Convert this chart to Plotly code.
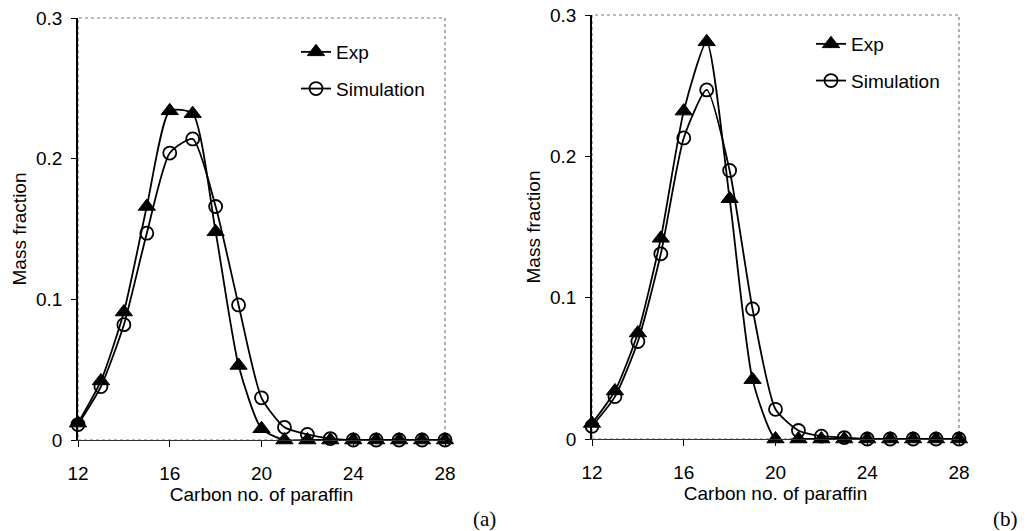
import plotly.graph_objects as go

carbon = list(range(12, 29))
tick_vals_x = [12, 16, 20, 24, 28]
tick_vals_y = [0, 0.1, 0.2, 0.3]
tick_text_y = ["0", "0.1", "0.2", "0.3"]

exp_a = [0.012, 0.042, 0.091, 0.166, 0.234, 0.232, 0.148, 0.053, 0.008, 0, 0, 0, 0, 0, 0, 0, 0]
sim_a = [0.011, 0.038, 0.082, 0.147, 0.204, 0.214, 0.166, 0.096, 0.030, 0.009, 0.004, 0.001, 0, 0, 0, 0, 0]
exp_b = [0.011, 0.034, 0.075, 0.142, 0.232, 0.281, 0.170, 0.042, 0, 0, 0, 0, 0, 0, 0, 0, 0]
sim_b = [0.009, 0.030, 0.069, 0.131, 0.213, 0.247, 0.190, 0.092, 0.021, 0.006, 0.002, 0.001, 0, 0, 0, 0, 0]

FONT = "Liberation Sans, Arial, sans-serif"
FS = 19

fig = go.Figure()

def add_pair(exp, sim, xa, ya, leg):
    fig.add_trace(go.Scatter(
        x=carbon, y=exp, name="Exp", mode="lines+markers",
        line=dict(color="black", width=1.8, shape="spline", smoothing=0.6),
        marker=dict(symbol="triangle-up", size=15, color="black", line=dict(color="black", width=1)),
        xaxis=xa, yaxis=ya, legend=leg, legendgroup=leg + "e", cliponaxis=False))
    fig.add_trace(go.Scatter(
        x=carbon, y=sim, name="Simulation", mode="lines+markers",
        line=dict(color="black", width=1.8, shape="spline", smoothing=0.6),
        marker=dict(symbol="circle-open", size=13, color="black", line=dict(color="black", width=1.8)),
        xaxis=xa, yaxis=ya, legend=leg, legendgroup=leg + "s", cliponaxis=False))

add_pair(exp_a, sim_a, "x", "y", "legend")
add_pair(exp_b, sim_b, "x2", "y2", "legend2")

xcommon = dict(range=[12, 28], tickvals=tick_vals_x, ticks="outside", ticklen=6, tickcolor="black",
               showline=True, linecolor="#333333", linewidth=1, showgrid=False, zeroline=False,
               automargin=False,
               tickfont=dict(family=FONT, size=FS, color="black"), ticklabelstandoff=10,
               title=dict(text="Carbon no. of paraffin", font=dict(family=FONT, size=FS, color="black"), standoff=2))
ycommon = dict(range=[0, 0.3], tickvals=tick_vals_y, ticktext=tick_text_y, ticks="outside", ticklen=5,
               tickcolor="black", showline=True, linecolor="black", linewidth=1.5, showgrid=False,
               zeroline=False, automargin=False,
               tickfont=dict(family=FONT, size=FS, color="black"), ticklabelstandoff=5,
               title=dict(text="Mass fraction", font=dict(family=FONT, size=FS, color="black"), standoff=4))

fig.update_layout(
    width=1027, height=531, margin=dict(l=0, r=0, t=0, b=0, autoexpand=False),
    paper_bgcolor="white", plot_bgcolor="white",
    xaxis=dict(domain=[78/1027, 445/1027], anchor="y", **xcommon),
    yaxis=dict(domain=[(531-440)/531, (531-18)/531], anchor="x", **ycommon),
    xaxis2=dict(domain=[592/1027, 959/1027], anchor="y2", **xcommon),
    yaxis2=dict(domain=[(531-439)/531, (531-15)/531], anchor="x2", **ycommon),
    legend=dict(x=296/1027, y=(531-33)/531, xanchor="left", yanchor="top", bgcolor="rgba(0,0,0,0)",
                font=dict(family=FONT, size=FS, color="black"), tracegroupgap=9),
    legend2=dict(x=811/1027, y=(531-25)/531, xanchor="left", yanchor="top", bgcolor="rgba(0,0,0,0)",
                 font=dict(family=FONT, size=FS, color="black"), tracegroupgap=9),
    showlegend=True,
)

for xr, yr in (("x domain", "y domain"), ("x2 domain", "y2 domain")):
    fig.add_shape(type="rect", xref=xr, yref=yr, x0=0, x1=1, y0=0, y1=1,
                  line=dict(color="#777777", width=1.2, dash="dot"), layer="below")

fig.add_annotation(text="(a)", x=484/1027, y=(531-519)/531, xref="paper", yref="paper",
                   xanchor="center", yanchor="middle", showarrow=False,
                   font=dict(family="Liberation Serif, Times New Roman, serif", size=21, color="black"))
fig.add_annotation(text="(b)", x=1005/1027, y=(531-519)/531, xref="paper", yref="paper",
                   xanchor="center", yanchor="middle", showarrow=False,
                   font=dict(family="Liberation Serif, Times New Roman, serif", size=21, color="black"))

fig.write_html("out.html")
